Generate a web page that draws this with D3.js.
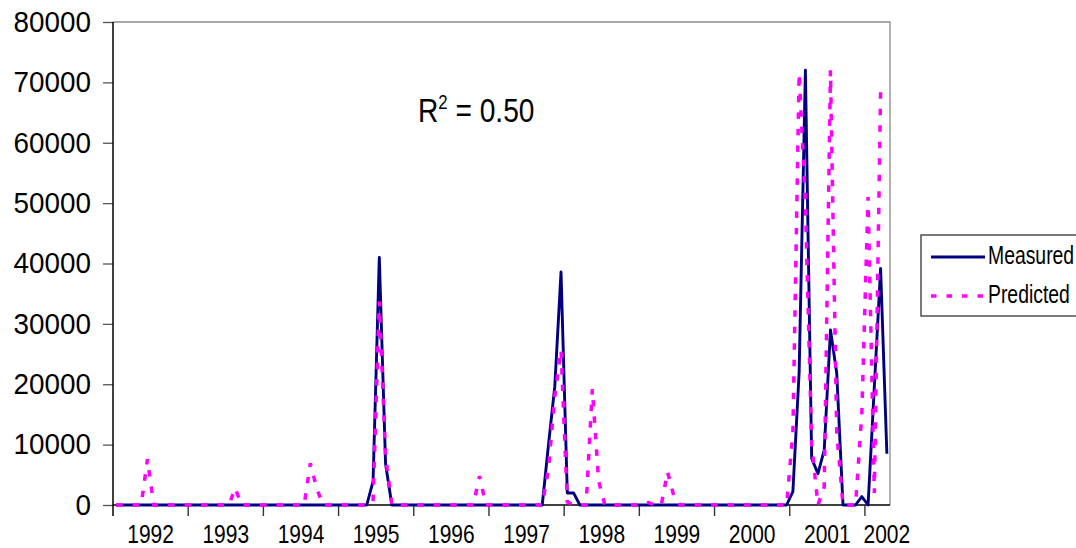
<!DOCTYPE html>
<html lang="en">
<head>
    <meta charset="UTF-8">
    <script src="https://cdn.jsdelivr.net/npm/d3@7"></script>
    <title>Measured vs Predicted</title>
    <style>
        html, body { margin: 0; padding: 0; background: #fff; overflow: hidden; }
        svg text { font-family: "Liberation Sans", Arial, sans-serif; fill: #000; }
    </style>
</head>
<body>
    <div class="fig"></div>

    <script>
        /*------------------- Data --------------------*/
        // year labels on the category axis and months plotted in each year
        const years = ["1992", "1993", "1994", "1995", "1996", "1997", "1998", "1999", "2000", "2001", "2002"];
        const monthsInYear = [12, 12, 12, 12, 12, 12, 12, 12, 12, 12, 4];

        // monthly values, one row per year
        const measured = [
            0, 0, 0, 0, 0, 0, 0, 0, 0, 0, 0, 0,
            0, 0, 0, 0, 0, 0, 0, 0, 0, 0, 0, 0,
            0, 0, 0, 0, 0, 0, 0, 0, 0, 0, 0, 0,
            0, 0, 0, 0, 0, 3900, 41000, 6800, 0, 0, 0, 0,
            0, 0, 0, 0, 0, 0, 0, 0, 0, 0, 0, 0,
            0, 0, 0, 0, 0, 0, 0, 0, 0, 10000, 19600, 38600,
            2000, 2000, 0, 0, 0, 0, 0, 0, 0, 0, 0, 0,
            0, 0, 0, 0, 0, 0, 0, 0, 0, 0, 0, 0,
            0, 0, 0, 0, 0, 0, 0, 0, 0, 0, 0, 0,
            2200, 22000, 72000, 7700, 5200, 9100, 29000, 21800, 0, 0, 0, 1400,
            0, 19600, 39200, 8500
        ];
        const predicted = [
            0, 0, 0, 0, 0, 7600, 0, 0, 0, 0, 0, 0,
            0, 0, 0, 0, 0, 0, 0, 2800, 0, 0, 0, 0,
            0, 0, 0, 0, 0, 0, 0, 6900, 2800, 0, 0, 0,
            0, 0, 0, 0, 0, 500, 33700, 8000, 0, 0, 0, 0,
            0, 0, 0, 0, 0, 0, 0, 0, 0, 0, 4800, 0,
            0, 0, 0, 0, 0, 0, 0, 0, 0, 6000, 18000, 25700,
            500, 0, 0, 0, 19200, 4000, 0, 0, 0, 0, 0, 0,
            0, 400, 0, 0, 5500, 1500, 0, 0, 0, 0, 0, 0,
            0, 0, 0, 0, 0, 0, 0, 0, 0, 0, 0, 0,
            12000, 71500, 50000, 10000, 0, 3000, 72000, 12000, 0, 0, 0, 15000,
            51000, 2000, 68500, null
        ];

        const yTicks = [0, 10000, 20000, 30000, 40000, 50000, 60000, 70000, 80000];
        const seriesNames = ["Measured", "Predicted"];
        const rSquared = "0.50";

        /*------------------- Setup --------------------*/
        const width = 1076, height = 548;
        const plot = { left: 113, right: 890, top: 22, bottom: 505 };
        const squeeze = 0.84; // text in the original is a bit condensed

        // month keys like "1992-1"
        const months = years.flatMap((yr, k) => d3.range(monthsInYear[k]).map(m => yr + "-" + (m + 1)));

        const svg = d3.select(".fig").append("svg")
            .attr("width", width)
            .attr("height", height);

        const x = d3.scaleBand()
            .domain(months)
            .range([plot.left, plot.right]);
        const xc = i => x(months[i]) + x.bandwidth() / 2;

        const y = d3.scaleLinear()
            .domain([0, 80000])
            .range([plot.bottom, plot.top]);

        // plot frame (gray top and right)
        svg.append("path")
            .attr("d", `M${plot.left},${plot.top}H${plot.right}V${plot.bottom}`)
            .attr("fill", "none")
            .attr("stroke", "#8c8c8c")
            .attr("stroke-width", 1.3);

        /*------------------- Y axis --------------------*/
        const yAxis = svg.append("g")
            .attr("transform", `translate(${plot.left},0)`)
            .call(d3.axisLeft(y).tickValues(yTicks).tickSize(10).tickPadding(13).tickFormat(d3.format("d")));

        yAxis.select(".domain").remove();
        yAxis.selectAll(".tick line").attr("stroke", "#555").attr("stroke-width", 1.3);
        yAxis.selectAll(".tick text")
            .attr("font-size", 29)
            .attr("font-family", null)
            .attr("transform", "scale(0.96,1)");

        // left axis line, runs down past the baseline like the category ticks
        svg.append("line")
            .attr("x1", plot.left).attr("x2", plot.left)
            .attr("y1", plot.top).attr("y2", plot.bottom + 11)
            .attr("stroke", "#000").attr("stroke-width", 1.5);

        /*------------------- X axis --------------------*/
        svg.append("line")
            .attr("x1", plot.left).attr("x2", plot.right)
            .attr("y1", plot.bottom).attr("y2", plot.bottom)
            .attr("stroke", "#000").attr("stroke-width", 1.5);

        // tick marks between years
        const yearStarts = years.map((yr, k) => d3.sum(monthsInYear.slice(0, k)));
        svg.selectAll(".xtick")
            .data(yearStarts.slice(1))
            .enter()
            .append("line")
            .attr("class", "xtick")
            .attr("x1", d => x(months[d])).attr("x2", d => x(months[d]))
            .attr("y1", plot.bottom).attr("y2", plot.bottom + 11)
            .attr("stroke", "#333").attr("stroke-width", 1.4);

        // year labels centred on their 12 months, the short last year sits on its last month
        const lastCenter = xc(months.length - 1);
        svg.selectAll(".xlabel")
            .data(years)
            .enter()
            .append("text")
            .attr("class", "xlabel")
            .attr("transform", (d, k) => {
                const cx = Math.min(x(months[yearStarts[k]]) + 6 * x.bandwidth(), lastCenter);
                return `translate(${cx},542.5) scale(${squeeze},1)`;
            })
            .attr("text-anchor", "middle")
            .attr("font-size", 25)
            .text(d => d);

        /*------------------- Lines --------------------*/
        const lineGen = d3.line()
            .defined(d => d != null)
            .x((d, i) => xc(i))
            .y(d => y(d));

        svg.append("path")
            .datum(measured)
            .attr("d", lineGen)
            .attr("fill", "none")
            .attr("stroke", "#000080")
            .attr("stroke-width", 2.9)
            .attr("stroke-linejoin", "round");

        svg.append("path")
            .datum(predicted)
            .attr("d", lineGen)
            .attr("fill", "none")
            .attr("stroke", "#ff00ff")
            .attr("stroke-width", 3.5)
            .attr("stroke-dasharray", "6.5,10");

        /*------------------- R squared --------------------*/
        const rText = svg.append("text")
            .attr("transform", `translate(418,122) scale(${squeeze},1)`)
            .attr("font-size", 33.5);
        rText.append("tspan").text("R");
        rText.append("tspan").attr("font-size", 20).attr("dy", -13).text("2");
        rText.append("tspan").attr("dy", 13).text(" = " + rSquared);

        /*------------------- Legend --------------------*/
        // box runs off the right edge as in the original, labels kept inside
        const legend = svg.append("g").attr("transform", "translate(921,235)");
        legend.append("rect")
            .attr("width", 200).attr("height", 81)
            .attr("fill", "#fff")
            .attr("stroke", "#333").attr("stroke-width", 1.3);

        const legendStyles = [
            { color: "#000080", width: 2.9, dash: null },
            { color: "#ff00ff", width: 3.5, dash: "5.5,10" }
        ];
        const legendRows = legend.selectAll(".row")
            .data(seriesNames)
            .enter()
            .append("g")
            .attr("class", "row")
            .attr("transform", (d, i) => `translate(0,${i === 0 ? 22 : 61})`);

        legendRows.append("line")
            .attr("x1", 10).attr("x2", 64)
            .attr("stroke", (d, i) => legendStyles[i].color)
            .attr("stroke-width", (d, i) => legendStyles[i].width)
            .attr("stroke-dasharray", (d, i) => legendStyles[i].dash);

        legendRows.append("text")
            .attr("transform", "translate(67,7) scale(0.775,1)")
            .attr("font-size", 25)
            .text(d => d);
    </script>
</body>
</html>
